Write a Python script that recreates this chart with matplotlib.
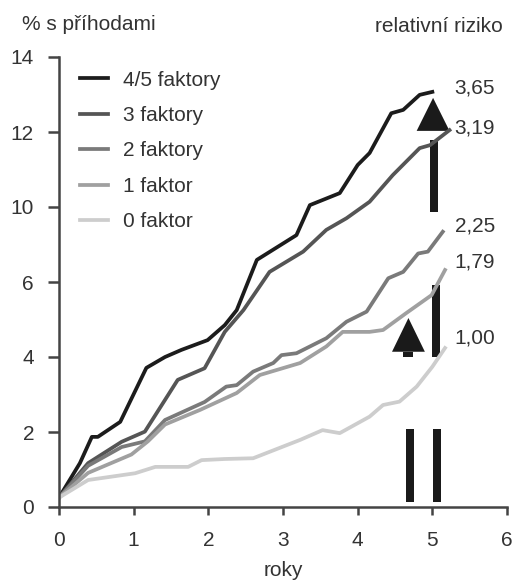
import matplotlib
matplotlib.use("Agg")
import matplotlib.pyplot as plt
from matplotlib.patches import Polygon, Rectangle

plt.rcParams['font.family'] = ['Liberation Sans', 'DejaVu Sans']

# y values are in axis position units (the printed scale skips "8")
ytick_pos = [0, 2, 4, 6, 8, 10, 12]
ytick_lab = ["0", "2", "4", "6", "10", "12", "14"]
xticks = [0, 1, 2, 3, 4, 5, 6]

names = ["4/5 faktory", "3 faktory", "2 faktory", "1 faktor", "0 faktor"]
colors = ["#1c1c1c", "#555555", "#7a7a7a", "#a0a0a0", "#cdcdcd"]

x45 = [0, 0.28, 0.44, 0.52, 0.82, 1.17, 1.42, 1.64, 1.99, 2.22, 2.38, 2.65,
       3.18, 3.36, 3.76, 4.0, 4.16, 4.45, 4.61, 4.83, 5.0]
y45 = [0.25, 1.17, 1.87, 1.87, 2.27, 3.71, 4.0, 4.19, 4.45, 4.85, 5.25, 6.59,
       7.25, 8.05, 8.37, 9.12, 9.44, 10.5, 10.59, 10.99, 11.07]

x3 = [0, 0.39, 0.84, 1.15, 1.59, 1.95, 2.22, 2.47, 2.82, 3.27, 3.58, 3.85,
      4.16, 4.47, 4.83, 4.97, 5.23]
y3 = [0.25, 1.17, 1.74, 2.01, 3.39, 3.7, 4.67, 5.25, 6.27, 6.81, 7.39, 7.7,
      8.14, 8.85, 9.57, 9.65, 10.05]

x2 = [0, 0.39, 0.84, 1.15, 1.42, 1.95, 2.24, 2.38, 2.6, 2.87, 2.98, 3.18,
      3.58, 3.85, 4.12, 4.41, 4.61, 4.81, 4.94, 5.14]
y2 = [0.25, 1.1, 1.6, 1.75, 2.32, 2.8, 3.21, 3.25, 3.61, 3.84, 4.05, 4.1,
      4.5, 4.94, 5.21, 6.1, 6.27, 6.76, 6.81, 7.34]

x1 = [0, 0.39, 0.97, 1.19, 1.42, 1.89, 2.38, 2.69, 3.23, 3.58, 3.8, 4.16,
      4.34, 4.65, 4.99, 5.17]
y1 = [0.25, 0.91, 1.4, 1.75, 2.2, 2.59, 3.04, 3.52, 3.84, 4.28, 4.67, 4.67,
      4.72, 5.17, 5.65, 6.32]

x0 = [0, 0.39, 1.02, 1.29, 1.73, 1.91, 2.22, 2.6, 3.23, 3.53, 3.76, 4.16,
      4.34, 4.56, 4.79, 5.0, 5.17]
y0 = [0.25, 0.72, 0.9, 1.07, 1.07, 1.25, 1.28, 1.3, 1.79, 2.05, 1.97, 2.41,
      2.72, 2.81, 3.21, 3.74, 4.24]

series_x = [x45, x3, x2, x1, x0]
series_y = [y45, y3, y2, y1, y0]

risk_labels = ["3,65", "3,19", "2,25", "1,79", "1,00"]
risk_y = [11.17, 10.1, 7.49, 6.53, 4.5]

# (center x, base y, tip y) of the triangles, (center x, y0, y1) of the bars
heads = [(5.01, 10.03, 10.91), (4.68, 4.14, 5.04)]
bars = [(5.02, 7.87, 9.79), (5.045, 4.0, 5.92), (4.70, 0.13, 2.08),
        (5.06, 0.13, 2.08), (4.675, 4.01, 4.14)]
bar_w = [0.11, 0.11, 0.11, 0.11, 0.13]

txt = "#333333"
fs = 15
fig = plt.figure(figsize=(5.13, 5.83), dpi=100)
ax = fig.add_axes([59 / 513, 76 / 583, 448 / 513, 450 / 583])

for xs, ys, c, n in zip(series_x, series_y, colors, names):
    ax.plot(xs, ys, color=c, lw=2.7, label=n, solid_joinstyle="round")

for cx, b, t in heads:
    ax.add_patch(Polygon([(cx - 0.22, b), (cx + 0.22, b), (cx, t)],
                         closed=True, color="#1a1a1a", lw=0))
for (cx, a, b), w in zip(bars, bar_w):
    ax.add_patch(Rectangle((cx - w / 2, a), w, b - a, color="#1a1a1a", lw=0))

for lab, yy in zip(risk_labels, risk_y):
    ax.text(5.3, yy, lab, fontsize=fs, color=txt, va="center", ha="left")

ax.set_xlim(0, 6)
ax.set_ylim(0, 12)
ax.set_xticks(xticks)
ax.set_yticks(ytick_pos)
ax.set_yticklabels(ytick_lab)
for s in ["top", "right"]:
    ax.spines[s].set_visible(False)
for s in ["left", "bottom"]:
    ax.spines[s].set_linewidth(1.8)
    ax.spines[s].set_color("#444444")
ax.tick_params(axis="both", direction="out", width=1.8, color="#444444",
               labelsize=fs, labelcolor=txt)
ax.tick_params(axis="y", length=8, pad=10)
ax.tick_params(axis="x", length=6, pad=11)
ax.set_xlabel("roky", fontsize=fs, color=txt, labelpad=8)

leg = ax.legend(loc="upper left", bbox_to_anchor=(0.047, 0.97), frameon=False,
                fontsize=fs, handlelength=1.35, handletextpad=0.72,
                labelspacing=0.79, borderaxespad=0, borderpad=0)
for t in leg.get_texts():
    t.set_color(txt)

fig.text(22 / 513, 1 - 25 / 583, "% s příhodami", fontsize=fs, color=txt,
         ha="left", va="center")
fig.text(503 / 513, 1 - 27 / 583, "relativní riziko", fontsize=fs, color=txt,
         ha="right", va="center")

fig.savefig("out.png", dpi=100)
